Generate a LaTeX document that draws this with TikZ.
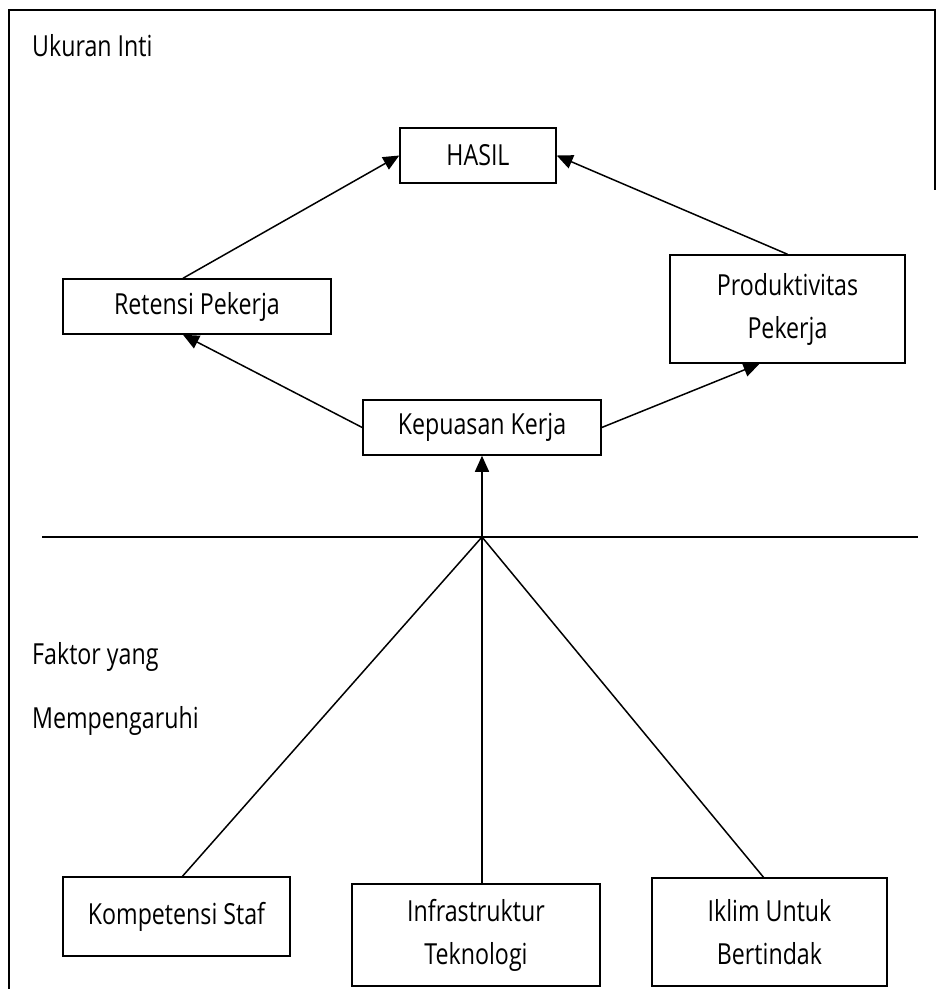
\documentclass[tikz,border=0pt]{standalone}
\usepackage{fontspec}
\setmainfont{Open Sans}[FakeStretch=0.8]
\usetikzlibrary{arrows.meta,calc}
\begin{document}
\begin{tikzpicture}[x=1pt,y=-1pt,
  box/.style={draw,line width=1.5pt,inner sep=0pt,align=center,
    font=\fontsize{29}{43}\selectfont},
  lbl/.style={inner sep=0pt,anchor=base west,font=\fontsize{29}{32}\selectfont},
  link/.style={line width=1.5pt},
  arr/.style={link,-{Triangle[length=16pt,width=14pt]}},
]
\useasboundingbox (0,0) rectangle (937,989);

% outer frame: left side runs to the bottom, right side only at the top
\draw[line width=1.5pt] (9,989) -- (9,10) -- (935,10) -- (935,190);

% section titles
\node[lbl] (ukuran) at (32,56) {Ukuran Inti};
\node[lbl] (faktor1) at (32,664) {Faktor yang};
\node[lbl] (faktor2) at (32,728) {Mempengaruhi};

% upper part: core measures
\node[box,minimum width=156pt,minimum height=55pt] (hasil) at (478,155.5) {HASIL};
\node[box,minimum width=268pt,minimum height=55pt] (ret) at (197,306.5) {Retensi Pekerja};
\node[box,minimum width=235pt,minimum height=108pt] (prod) at (787.5,309) {Produktivitas\\Pekerja};
\node[box,minimum width=238pt,minimum height=55pt] (kep) at (482,427.5) {Kepuasan Kerja};

% lower part: influencing factors
\node[box,minimum width=227pt,minimum height=79pt] (komp) at (176.5,916.5) {Kompetensi Staf};
\node[box,minimum width=248pt,minimum height=102pt] (infra) at (476,935) {Infrastruktur\\Teknologi};
\node[box,minimum width=235pt,minimum height=108pt] (iklim) at (769.5,932) {Iklim Untuk\\Bertindak};

% divider and junction
\coordinate (hl) at (42,537);
\coordinate (hr) at (918,537);
\coordinate (j) at (482,537);
\draw[link] (hl) -- (hr);

% arrows between measures
\draw[arr] ([xshift=-14pt]ret.north) -- (hasil.west);
\draw[arr] (prod.north) -- (hasil.east);
\draw[arr] (kep.west) -- ([xshift=-14pt]ret.south);
\draw[arr] (kep.east) -- ([xshift=-28pt]prod.south);
\draw[arr] (j) -- (kep.south);

% factor lines into the junction
\draw[link] (j) -- ([xshift=6pt]komp.north);
\draw[link] (j) -- (j |- infra.north);
\draw[link] (j) -- ([xshift=-6pt]iklim.north);
\end{tikzpicture}
\end{document}
